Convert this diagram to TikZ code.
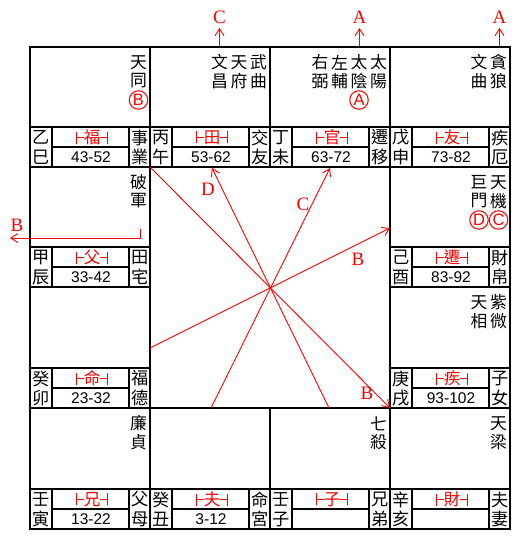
\documentclass[tikz,border=0pt]{standalone}
\usepackage{fontspec}
\usetikzlibrary{arrows.meta}
\newfontfamily\cjk{Noto Sans CJK TC}
\newfontfamily\lsans{Liberation Sans}
\newfontfamily\lserif{Liberation Serif}
\newcommand\lbk{\rule{1pt}{12pt}\rule[5.5pt]{7pt}{1pt}}
\newcommand\rbk{\rule[5.5pt]{7pt}{1pt}\rule{1pt}{12pt}}
\tikzset{
  gridline/.style={line width=2.4pt, line cap=rect},
  stripline/.style={line width=2pt, line cap=rect},
  star/.style={font=\cjk\fontsize{16.8}{16.8}\selectfont, inner sep=0pt, anchor=center},
  strip/.style={font=\cjk\fontsize{17.2}{17.2}\selectfont, inner sep=0pt, anchor=center},
  pal/.style={font=\cjk\fontsize{16.5}{16.5}\selectfont, text=red, inner sep=0pt},
  age/.style={font=\lsans\fontsize{15.5}{15.5}\selectfont, inner sep=0pt},
  lab/.style={font=\lserif\fontsize{19}{19}\selectfont, text=red, inner sep=0pt},
  circ/.style={circle, draw=red, line width=1pt, minimum size=18.5pt, inner sep=0pt, text=red, font=\lsans\fontsize{16.5}{16.5}\selectfont},
  con/.style={draw=red, line width=0.9pt, -{Straight Barb[length=7pt,width=9pt]}}
}
\newcommand\twostar[5]{%
  \node[star] (#1a) at (#2,#3) {#4};
  \node[star] (#1b) at (#2,{#3+18.5}) {#5};}
\begin{document}
\begin{tikzpicture}[x=1pt,y=-1pt]
\useasboundingbox (0,0) rectangle (531,549);
% main grid
\draw[gridline] (30,47) rectangle (510,529);
\draw[gridline] (30,167) -- (510,167);
\draw[gridline] (30,408) -- (510,408);
\draw[gridline] (30,287) -- (150,287);
\draw[gridline] (390,287) -- (510,287);
\draw[gridline] (150,47) -- (150,529);
\draw[gridline] (390,47) -- (390,529);
\draw[gridline] (270,47) -- (270,167);
\draw[gridline] (270,408) -- (270,529);
% palace strips
\foreach \xl/\yb/\sa/\sb/\pl/\ag/\na/\nb [count=\i] in {
30/167/乙/巳/福/43-52/事/業,
150/167/丙/午/田/53-62/交/友,
270/167/丁/未/官/63-72/遷/移,
390/167/戊/申/友/73-82/疾/厄,
390/287/己/酉/遷/83-92/財/帛,
390/408/庚/戌/疾/93-102/子/女,
390/529/辛/亥/財//夫/妻,
270/529/壬/子/子//兄/弟,
150/529/癸/丑/夫/3-12/命/宮,
30/529/壬/寅/兄/13-22/父/母,
30/408/癸/卯/命/23-32/福/德,
30/287/甲/辰/父/33-42/田/宅}{
  \draw[stripline] (\xl,{\yb-40}) -- ({\xl+120},{\yb-40});
  \draw[stripline] ({\xl+22},{\yb-20}) -- ({\xl+99},{\yb-20});
  \draw[stripline] ({\xl+22},{\yb-40}) -- ({\xl+22},\yb);
  \draw[stripline] ({\xl+99},{\yb-40}) -- ({\xl+99},\yb);
  \node[strip] (sa\i) at ({\xl+11},{\yb-29.5}) {\sa};
  \node[strip] (sb\i) at ({\xl+11},{\yb-10}) {\sb};
  \node[strip] (na\i) at ({\xl+110},{\yb-29.5}) {\na};
  \node[strip] (nb\i) at ({\xl+110},{\yb-10}) {\nb};
  \node[pal] (pl\i) at ({\xl+62},{\yb-29.5}) {\lbk\pl\rbk};
  \node[age] (ag\i) at ({\xl+61},{\yb-10}) {\ag};
}
% stars
\twostar{tiantong}{138.5}{62.5}{天}{同}
\twostar{wuqu}{258.5}{62.5}{武}{曲}
\twostar{tianfu}{239}{62.5}{天}{府}
\twostar{wenchang}{219.5}{62.5}{文}{昌}
\twostar{taiyang}{378.5}{62.5}{太}{陽}
\twostar{taiyin}{359}{62.5}{太}{陰}
\twostar{zuofu}{339.5}{62.5}{左}{輔}
\twostar{youbi}{320}{62.5}{右}{弼}
\twostar{tanlang}{498.5}{62.5}{貪}{狼}
\twostar{wenqu}{479}{62.5}{文}{曲}
\twostar{pojun}{138.5}{182.5}{破}{軍}
\twostar{tianji}{498.5}{182.5}{天}{機}
\twostar{jumen}{479}{182.5}{巨}{門}
\twostar{ziwei}{498.5}{302.5}{紫}{微}
\twostar{tianxiang}{479}{302.5}{天}{相}
\twostar{lianzhen}{138.5}{423.5}{廉}{貞}
\twostar{qisha}{378.5}{423.5}{七}{殺}
\twostar{tianliang}{498.5}{423.5}{天}{梁}
% circled marks
\node[circ] (cB) at (138.5,100) {B};
\node[circ] (cA) at (359,100) {A};
\node[circ] (cD) at (479,220) {D};
\node[circ] (cC) at (498.5,220) {C};
% top arrows
\coordinate (tC0) at (219.5,46);
\coordinate (tC1) at (219.5,28);
\node[lab] (ltC) at (219.5,17) {C};
\draw[con] (tC0) -- (tC1);
\coordinate (tA0) at (359.5,46);
\coordinate (tA1) at (359.5,28);
\node[lab] (ltA) at (359.5,17) {A};
\draw[con] (tA0) -- (tA1);
\coordinate (tB0) at (499.5,46);
\coordinate (tB1) at (499.5,28);
\node[lab] (ltA2) at (499.5,17) {A};
\draw[con] (tB0) -- (tB1);
% left arrow
\coordinate (bl0) at (140,229);
\coordinate (bl1) at (140,238);
\coordinate (bl2) at (10,238);
\node[lab] (lbl) at (17,225) {B};
\draw[con] (bl0) -- (bl1) -- (bl2);
% centre arrows
\coordinate (p1) at (150,167);
\coordinate (q1) at (390,408);
\coordinate (p2) at (150,348);
\coordinate (q2) at (390,228);
\coordinate (p3) at (211,408);
\coordinate (q3) at (330,168);
\coordinate (p4) at (329,408);
\coordinate (q4) at (212,168);
\draw[con] (p1) -- (q1);
\draw[con] (p2) -- (q2);
\draw[con] (p3) -- (q3);
\draw[con] (p4) -- (q4);
\node[lab] (l1) at (367,393) {B};
\node[lab] (l2) at (358,259) {B};
\node[lab] (l3) at (303,204) {C};
\node[lab] (l4) at (208,189) {D};
\end{tikzpicture}
\end{document}
